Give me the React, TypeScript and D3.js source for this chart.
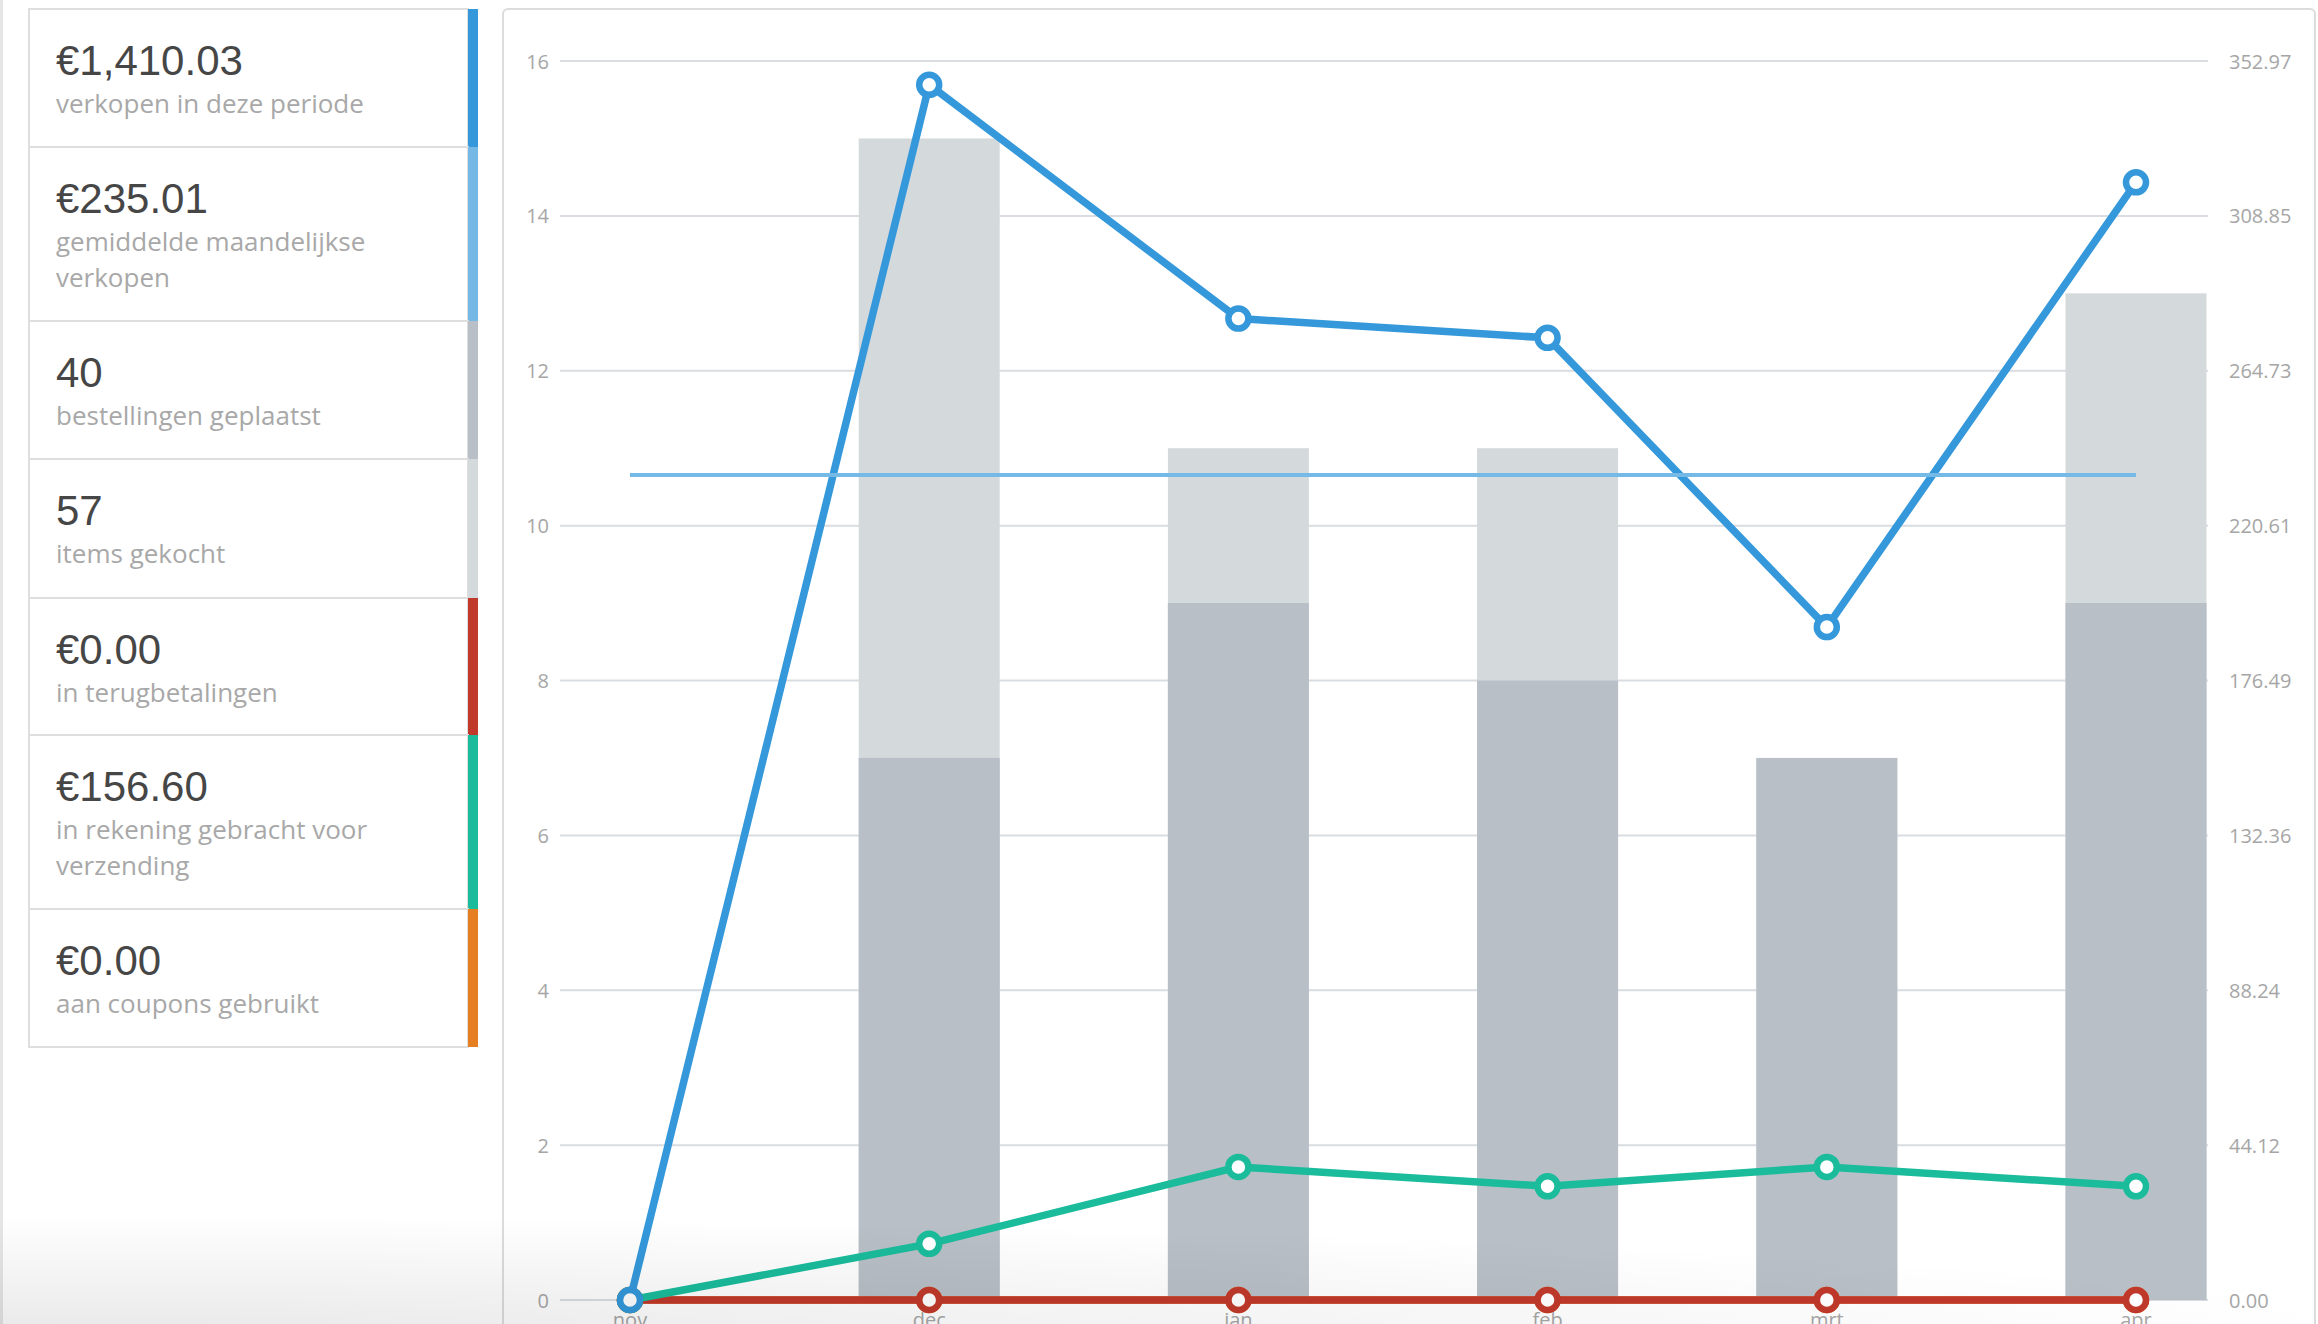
import React from "react";
import * as d3 from "d3";

const months = ["nov", "dec", "jan", "feb", "mrt", "apr"];
const monthDates = ["2014-11-01", "2014-12-01", "2015-01-01", "2015-02-01", "2015-03-01", "2015-04-01"];
const itemsBought = [0, 15, 11, 11, 7, 13];
const ordersPlaced = [0, 7, 9, 8, 7, 9];
const salesAmount = [0, 346.2, 279.6, 274.1, 191.7, 318.4];
const shippingAmount = [0, 16.0, 37.9, 32.4, 37.9, 32.4];
const refundAmount = [0, 0, 0, 0, 0, 0];
const couponAmount = [0, 0, 0, 0, 0, 0];
const averageSales = 235.01;
const leftTicks = [0, 2, 4, 6, 8, 10, 12, 14, 16];
const rightTicks = [0, 44.12, 88.24, 132.36, 176.49, 220.61, 264.73, 308.85, 352.97];

const summaryValues = ["€1,410.03", "€235.01", "40", "57", "€0.00", "€156.60", "€0.00"];
const summaryLabels = [
  ["verkopen in deze periode"],
  ["gemiddelde maandelijkse", "verkopen"],
  ["bestellingen geplaatst"],
  ["items gekocht"],
  ["in terugbetalingen"],
  ["in rekening gebracht voor", "verzending"],
  ["aan coupons gebruikt"],
];
const summaryColors = ["#3498db", "#75b8e6", "#b8bfc6", "#d4d9dc", "#c0392b", "#1abc9c", "#e67e22"];

const W = 2318;
const H = 1324;

export default function App() {
  const dates = monthDates.map((d) => new Date(d + "T00:00:00Z"));
  const x = d3.scaleUtc().domain([dates[0], dates[dates.length - 1]]).range([630, 2136]);
  const xi = (i: number) => x(dates[i]);
  const yL = d3.scaleLinear().domain([0, 16]).range([1300, 61]);
  const yR = d3.scaleLinear().domain([0, 352.97]).range([1300, 61]);
  const barW = 141;

  const line = d3
    .line<number>()
    .x((_, i) => xi(i))
    .y((d) => yR(d));

  const rowEdges = [9, 147, 321, 459, 598, 735, 909, 1047];
  const sbLeft = 29;
  const sbRight = 468;
  const stripW = 10;

  const series = [
    { data: couponAmount, color: "#e67e22" },
    { data: refundAmount, color: "#c0392b" },
    { data: shippingAmount, color: "#1abc9c" },
    { data: salesAmount, color: "#3498db" },
  ];

  return (
    <svg
      width={W}
      height={H}
      style={{ position: "absolute", left: 0, top: 0, display: "block", background: "#fff" }}
    >
      <defs>
        <radialGradient
          id="shade"
          gradientUnits="userSpaceOnUse"
          cx={0}
          cy={0}
          r={1}
          gradientTransform={`translate(0,${H + 10}) scale(2400,120)`}
        >
          <stop offset="0" stopColor="#000" stopOpacity={0.09} />
          <stop offset="1" stopColor="#000" stopOpacity={0} />
        </radialGradient>
      </defs>

      <rect x={0} y={0} width={3} height={H} fill="#e6e6e6" />

      {/* sidebar */}
      <g>
        {summaryValues.map((v, i) => {
          const top = rowEdges[i];
          const bottom = rowEdges[i + 1];
          return (
            <g key={i}>
              <rect
                x={sbLeft}
                y={top}
                width={sbRight - sbLeft}
                height={bottom - top}
                fill="#fff"
                stroke="#dedede"
                strokeWidth={2}
              />
              <rect x={sbRight} y={top} width={stripW} height={bottom - top} fill={summaryColors[i]} />
              <text
                x={56}
                y={top + 66}
                fontFamily="'Liberation Sans', Arial, sans-serif"
                fontSize={42}
                fill="#464646"
              >
                {v}
              </text>
              {summaryLabels[i].map((l, j) => (
                <text
                  key={j}
                  x={56}
                  y={top + 104 + j * 36}
                  fontFamily="'Open Sans', sans-serif"
                  fontSize={26}
                  fill="#a8a8a8"
                >
                  {l}
                </text>
              ))}
            </g>
          );
        })}
      </g>

      {/* chart panel */}
      <rect x={503} y={9} width={2315 - 503} height={1500} rx={5} fill="#fff" stroke="#dcdcdc" strokeWidth={2} />

      {/* grid */}
      <g>
        {leftTicks.map((t) => (
          <line key={t} x1={560} x2={2208} y1={yL(t)} y2={yL(t)} stroke="#d9dde1" strokeWidth={2} />
        ))}
      </g>

      <g fontFamily="'Open Sans', sans-serif" fontSize={20} fill="#a6a6a6">
        {leftTicks.map((t) => (
          <text key={t} x={549} y={yL(t)} textAnchor="end" dominantBaseline="central">
            {t}
          </text>
        ))}
      </g>

      <g fontFamily="'Open Sans', sans-serif" fontSize={20} fill="#a6a6a6">
        {rightTicks.map((t) => (
          <text key={t} x={2229} y={yR(t)} textAnchor="start" dominantBaseline="central">
            {t.toFixed(2)}
          </text>
        ))}
      </g>

      {/* bars: items (light) behind orders (dark) */}
      <g>
        {itemsBought.map((v, i) =>
          v > 0 ? (
            <rect
              key={"i" + i}
              x={xi(i) - barW / 2}
              y={yL(v)}
              width={barW}
              height={yL(0) - yL(v)}
              fill="#d4d9dc"
            />
          ) : null
        )}
        {ordersPlaced.map((v, i) =>
          v > 0 ? (
            <rect
              key={"o" + i}
              x={xi(i) - barW / 2}
              y={yL(v)}
              width={barW}
              height={yL(0) - yL(v)}
              fill="#b8bfc6"
            />
          ) : null
        )}
      </g>

      {/* lines */}
      {series.map((s, si) => (
        <g key={si}>
          <path d={line(s.data) || ""} fill="none" stroke={s.color} strokeWidth={7.5} strokeLinejoin="round" />
          {s.data.map((v, i) => (
            <circle key={i} cx={xi(i)} cy={yR(v)} r={10} fill="#fff" stroke={s.color} strokeWidth={6.5} />
          ))}
        </g>
      ))}

      {/* average line (drawn above the sales line) */}
      <line
        x1={xi(0)}
        x2={xi(months.length - 1)}
        y1={yR(averageSales)}
        y2={yR(averageSales)}
        stroke="#75b9e7"
        strokeWidth={4}
      />

      {/* x labels */}
      <g fontFamily="'Open Sans', sans-serif" fontSize={20} fill="#a6a6a6">
        {months.map((m, i) => (
          <text key={m} x={xi(i)} y={1327} textAnchor="middle">
            {m}
          </text>
        ))}
      </g>

      <rect x={0} y={H - 140} width={W} height={140} fill="url(#shade)" pointerEvents="none" />
    </svg>
  );
}
